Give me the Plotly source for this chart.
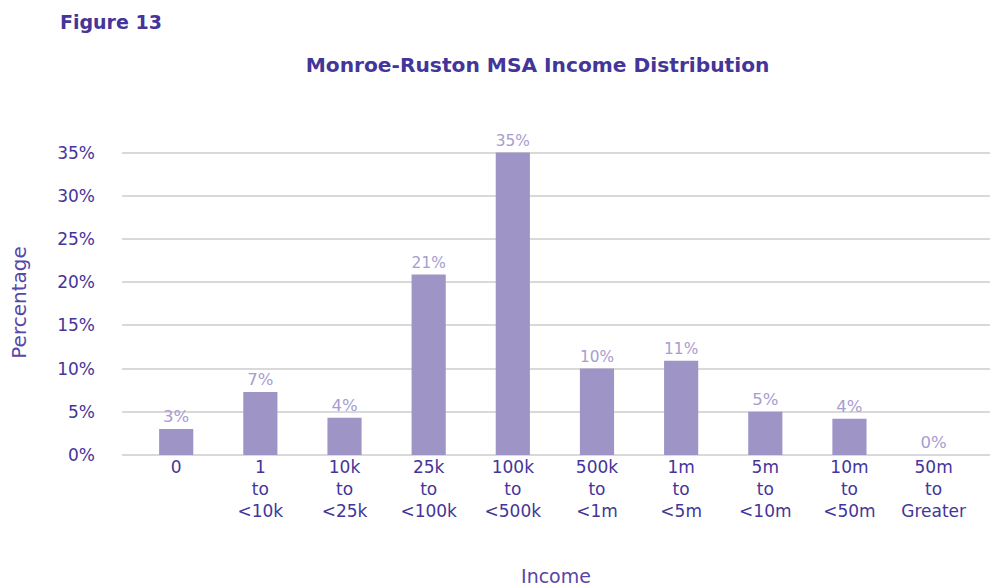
import plotly.graph_objects as go

categories = ["0", "1<br>to<br><10k", "10k<br>to<br><25k", "25k<br>to<br><100k",
              "100k<br>to<br><500k", "500k<br>to<br><1m", "1m<br>to<br><5m",
              "5m<br>to<br><10m", "10m<br>to<br><50m", "50m<br>to<br>Greater"]
values = [3.0, 7.3, 4.3, 20.9, 35.0, 10.0, 10.9, 5.0, 4.2, 0.0]
labels = ["3%", "7%", "4%", "21%", "35%", "10%", "11%", "5%", "4%", "0%"]
y_ticks = [0, 5, 10, 15, 20, 25, 30, 35]
y_tick_text = ["0%", "5%", "10%", "15%", "20%", "25%", "30%", "35%"]

FONT = "DejaVu Sans"
DARK = "#43359a"
MID = "#5647a6"
LIGHT = "#a69dd0"
BAR = "#9e95c6"

fig = go.Figure()
fig.add_trace(go.Bar(
    x=categories, y=values, text=labels, textposition="outside",
    textfont=dict(family=FONT, size=16.5, color=LIGHT),
    marker=dict(color=BAR, line=dict(width=0)),
    cliponaxis=False, hoverinfo="skip",
))

fig.update_layout(
    width=990, height=587,
    margin=dict(l=122, r=0, t=150, b=132),
    paper_bgcolor="white", plot_bgcolor="white",
    bargap=0.594,
    showlegend=False,
    font=dict(family=FONT, color=DARK),
    title=dict(text="<b>Monroe-Ruston MSA Income Distribution</b>",
               x=0.543, xanchor="center", y=0.8893, yanchor="middle",
               font=dict(family=FONT, size=20.2, color=DARK)),
    annotations=[dict(text="<b>Figure 13</b>", xref="paper", x=-0.0737, xanchor="left",
                      yref="paper", y=1.4197, yanchor="middle",
                      showarrow=False,
                      font=dict(family=FONT, size=19, color=DARK))],
)

fig.update_xaxes(
    type="category", range=[-0.644, 9.67], automargin=False,
    showgrid=False, zeroline=False, showline=False, ticks="",
    tickfont=dict(family=FONT, size=17, color=DARK),
    title=dict(text="Income", standoff=49, font=dict(family=FONT, size=19, color=MID)),
)
fig.update_yaxes(
    range=[0, 35.3], tickvals=y_ticks, ticktext=y_tick_text, automargin=False,
    showgrid=True, gridcolor="#d9d9d9", gridwidth=1.5,
    zeroline=True, zerolinecolor="#d9d9d9", zerolinewidth=1.5,
    showline=False, ticks="", ticklabelstandoff=26,
    tickfont=dict(family=FONT, size=17, color=DARK),
    title=dict(text="Percentage", standoff=25, font=dict(family=FONT, size=20, color=MID)),
)

fig.write_html("out.html", config={"displayModeBar": False})

# remove the browser's default page margin so the figure sits at the page origin
with open("out.html", encoding="utf-8") as f:
    html = f.read()
html = html.replace("<body>", '<body style="margin:0;overflow:hidden">', 1)
with open("out.html", "w", encoding="utf-8") as f:
    f.write(html)
